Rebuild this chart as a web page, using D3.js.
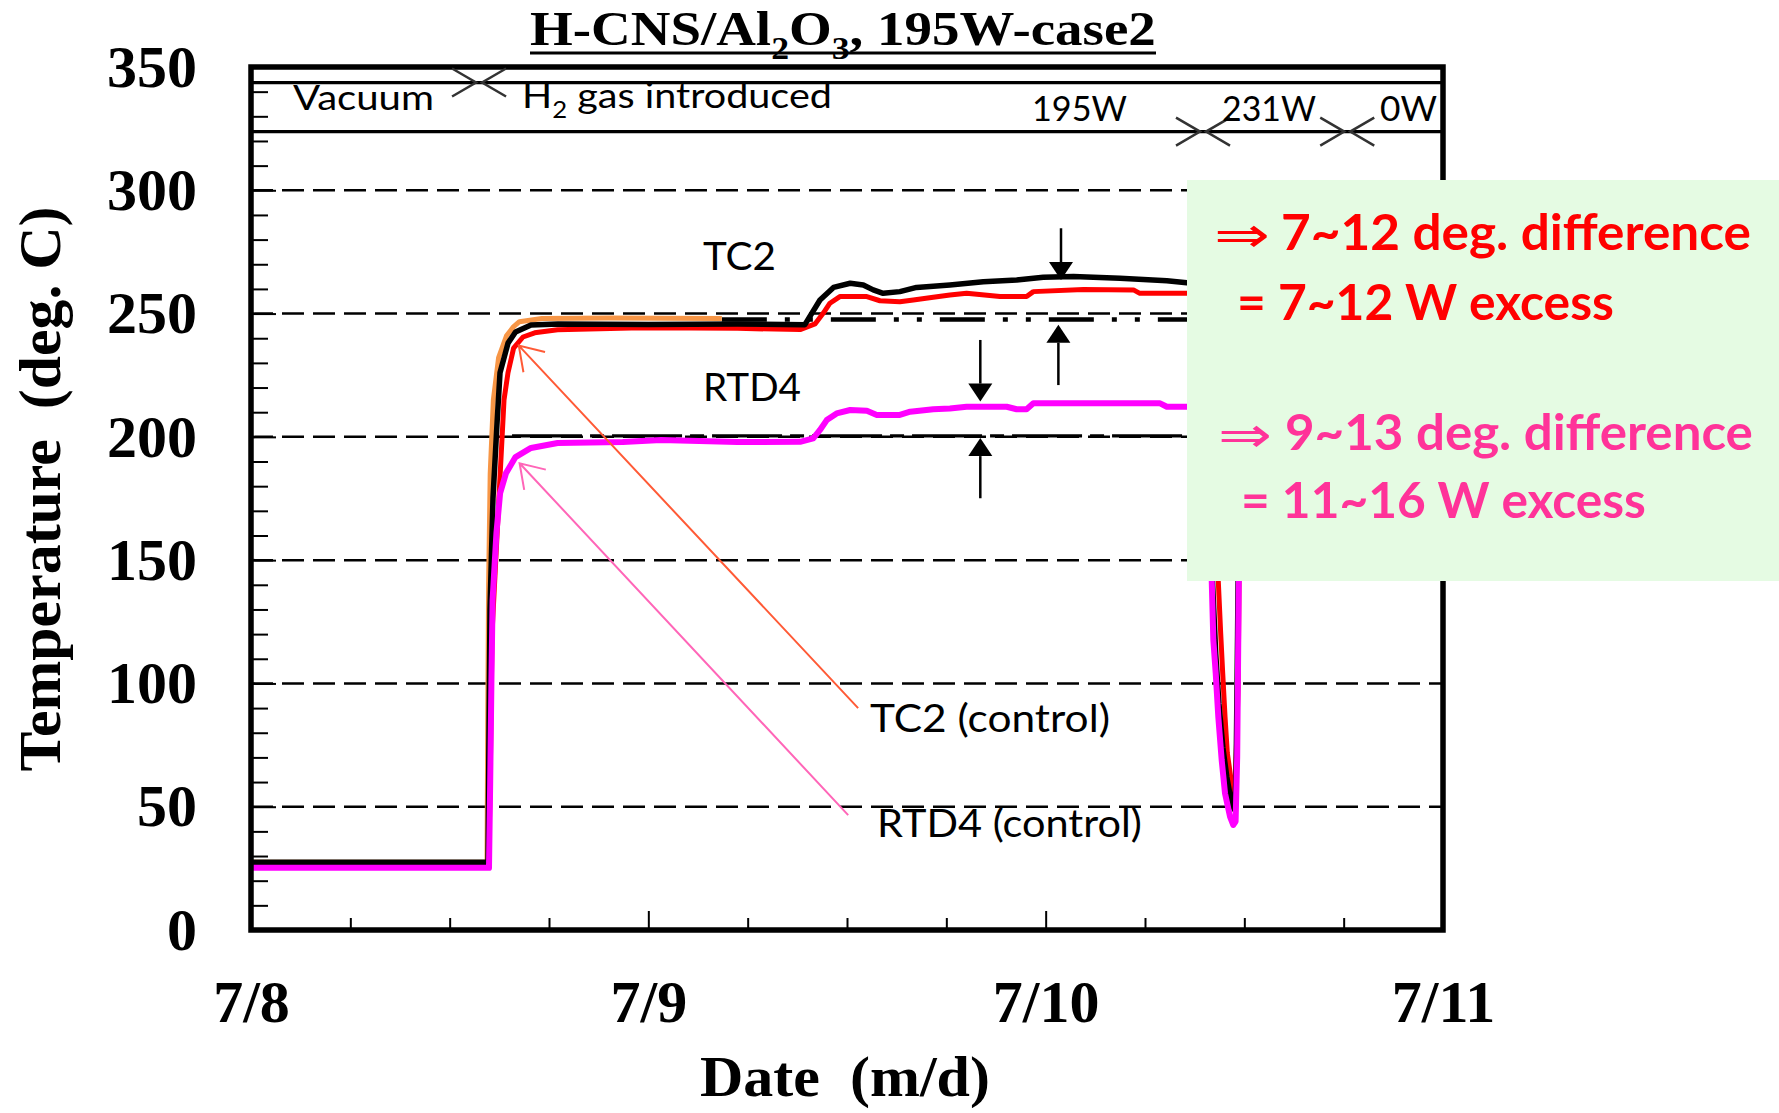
<!DOCTYPE html>
<html>
<head>
<meta charset="utf-8">
<script src="https://cdn.jsdelivr.net/npm/d3@7"></script>
<style>
  body { margin: 0; background: #fff; }
  svg { display: block; }
</style>
</head>
<body>
<div id="chart"></div>
<script>
// ---- data: [days since 7/8 00:00, temperature in deg C] ----
const tc2Black = [
  [0, 27.5], [0.5965, 27.5], [0.599, 80], [0.6015, 130], [0.609, 175], [0.619, 205],
  [0.6267, 226], [0.6468, 238], [0.6657, 242.5], [0.7047, 245.4], [0.7727, 245.8],
  [1.0, 245.6], [1.2244, 245.8], [1.394, 245.5], [1.432, 255.5], [1.466, 260.6],
  [1.508, 262.3], [1.541, 261.6], [1.566, 259.6], [1.591, 258.2], [1.633, 258.9],
  [1.675, 260.6], [1.759, 261.6], [1.843, 262.9], [1.927, 263.6], [1.994, 264.7],
  [2.07, 265], [2.187, 264.3], [2.305, 263.3], [2.355, 262.5], [2.41, 262],
  [2.416, 170], [2.42, 141], [2.428, 112], [2.436, 92], [2.446, 74], [2.456, 62],
  [2.466, 53], [2.474, 49], [2.479, 60], [2.483, 120], [2.487, 190], [2.493, 245],
  [2.52, 260], [2.6, 272], [2.7, 278], [2.76, 280]
];
const tc2Red = [
  [0, 26.5], [0.598, 26.5], [0.602, 60], [0.6065, 120], [0.6267, 183.7], [0.6368, 215],
  [0.6468, 226], [0.6609, 236], [0.6846, 240.5], [0.714, 242.2], [0.7717, 243.4],
  [0.984, 244.2], [1.2244, 244], [1.382, 243.5], [1.4195, 245.8], [1.44, 250.1],
  [1.457, 254.2], [1.482, 256.9], [1.55, 256.9], [1.583, 255.2], [1.633, 254.8],
  [1.667, 255.5], [1.717, 256.6], [1.759, 257.5], [1.801, 258.2], [1.885, 256.9],
  [1.952, 256.9], [1.969, 258.9], [2.095, 259.8], [2.221, 259.6], [2.237, 258.2],
  [2.355, 258.2], [2.41, 258], [2.425, 190], [2.4345, 141.3], [2.4405, 120.3],
  [2.4456, 104.1], [2.4514, 86.5], [2.4572, 71.7], [2.468, 59.5], [2.4765, 53.4],
  [2.4845, 100], [2.488, 170], [2.495, 240], [2.52, 256], [2.6, 268], [2.7, 274], [2.76, 276]
];
const rtd4Magenta = [
  [0, 25.2], [0.599, 25.2], [0.602, 60], [0.605, 100], [0.608, 133.8], [0.6177, 161],
  [0.627, 177.2], [0.6418, 185.3], [0.6657, 191.8], [0.7047, 195.5], [0.7717, 197.5],
  [0.9355, 197.9], [1.032, 198.7], [1.2244, 197.9], [1.382, 198], [1.415, 199.4],
  [1.432, 202.8], [1.449, 206.8], [1.474, 209.5], [1.508, 210.9], [1.55, 210.6],
  [1.575, 208.9], [1.633, 208.9], [1.659, 210.2], [1.717, 211.2], [1.759, 211.5],
  [1.801, 212.2], [1.902, 212.2], [1.927, 211.2], [1.952, 211.2], [1.969, 213.6],
  [2.137, 213.6], [2.288, 213.6], [2.305, 212.2], [2.355, 212.2], [2.41, 212],
  [2.415, 165], [2.418, 141.3], [2.422, 117.6], [2.428, 104.1], [2.4345, 86.5],
  [2.443, 68.9], [2.4514, 55.4], [2.464, 46], [2.472, 42.6], [2.478, 44], [2.482, 70],
  [2.486, 140], [2.492, 200], [2.52, 210], [2.6, 222], [2.7, 228], [2.76, 230]
];
const tc2ControlOrange = [
  [0, 27.5], [0.594, 27.5], [0.596, 90], [0.598, 140], [0.602, 185], [0.61, 215],
  [0.623, 232], [0.643, 241], [0.661, 244.7], [0.6755, 246.7], [0.732, 248],
  [0.9, 248.2], [1.185, 248]
];
const tc2ControlLevel = [[1.185, 247.6], [2.40, 247.6]];
const rtd4ControlLevel = [[0.657, 200.4], [2.40, 200.4]];

// phase changes (day): H2 introduced, 195W -> 231W, 231W -> 0W
const phaseChanges = [0.574, 2.396, 2.759];

const xTickValues = [0, 1, 2, 3];
const xTickLabels = ["7/8", "7/9", "7/10", "7/11"];
const yTickValues = [0, 50, 100, 150, 200, 250, 300, 350];
const gridTemps = [50, 100, 150, 200, 250, 300];

// ---- layout ----
const W = 1779, H = 1113;
const plot = { left: 251, right: 1443, top: 67, bottom: 930 };
const SERIF = "'Liberation Serif','Times New Roman',serif";
const SANS = "Lato,Carlito,'Noto Sans',sans-serif";
const bandTemps = [343.7, 323.8];   // the two phase band lines, in plot units

const svg = d3.select("#chart").append("svg")
  .attr("width", W).attr("height", H)
  .attr("viewBox", [0, 0, W, H].join(" "));
svg.append("rect").attr("width", W).attr("height", H).attr("fill", "#fff");

const x = d3.scaleLinear().domain([0, 3]).range([plot.left, plot.right]);
const y = d3.scaleLinear().domain([0, 350]).range([plot.bottom, plot.top]);

// text helper: draws text at (px,py) and stretches it to a target width
function addText(parent, o) {
  const g = parent.append("text")
    .attr("font-family", o.family)
    .attr("font-size", o.size)
    .attr("font-weight", o.weight || "normal")
    .attr("fill", o.fill || "#000")
    .attr("text-anchor", o.anchor || "start");
  let shift = 0;
  (o.parts || [{ t: o.text }]).forEach(p => {
    const target = p.sub ? o.size * 0.3 : 0;
    const s = g.append("tspan").text(p.t).attr("dy", target - shift);
    if (p.sub) s.attr("font-size", o.size * 0.65);
    shift = target;
  });
  let k = 1;
  if (o.width) k = o.width / g.node().getBBox().width;
  g.attr("transform", `translate(${o.px},${o.py}) rotate(${o.rotate || 0}) scale(${k},1)`);
  return g;
}

// gridlines
svg.append("g").selectAll("line").data(gridTemps).join("line")
  .attr("x1", x(0)).attr("x2", x(3))
  .attr("y1", d => y(d)).attr("y2", d => y(d))
  .attr("stroke", "#000").attr("stroke-width", 2.5)
  .attr("stroke-dasharray", "22,9");

// axes ticks
const yMinor = d3.range(10, 350, 10).filter(v => v % 50 !== 0);
const yMinorG = svg.append("g").attr("transform", `translate(${plot.left},0)`)
  .call(d3.axisLeft(y).tickValues(yMinor).tickSize(-17).tickFormat(""));
const yAxisG = svg.append("g").attr("transform", `translate(${plot.left},0)`)
  .call(d3.axisLeft(y).tickValues(yTickValues).tickSize(-25).tickPadding(54).tickFormat(d3.format("d")));

const xMinor = d3.range(0.25, 3, 0.25).filter(v => v % 1 !== 0);
const xMinorG = svg.append("g").attr("transform", `translate(0,${plot.bottom})`)
  .call(d3.axisBottom(x).tickValues(xMinor).tickSize(-12).tickFormat(""));
const xAxisG = svg.append("g").attr("transform", `translate(0,${plot.bottom})`)
  .call(d3.axisBottom(x).tickValues(xTickValues).tickSize(-19).tickPadding(49)
    .tickFormat((d, i) => xTickLabels[i]));

[yMinorG, yAxisG, xMinorG, xAxisG].forEach(g => {
  g.select(".domain").remove();
  g.selectAll("line").attr("stroke", "#000").attr("stroke-width", 2);
  g.selectAll("text")
    .attr("font-family", SERIF).attr("font-size", 60)
    .attr("font-weight", "bold").attr("fill", "#000");
});

// series
const line = d3.line().x(d => x(d[0])).y(d => y(d[1]));
function drawSeries(data, color, width, dash) {
  svg.append("path").datum(data)
    .attr("fill", "none")
    .attr("stroke", color)
    .attr("stroke-width", width)
    .attr("stroke-linejoin", "round")
    .attr("stroke-dasharray", dash || null)
    .attr("d", line);
}
drawSeries(tc2ControlLevel, "#000", 4.5, "45,18,5,18,5,18");
drawSeries(rtd4ControlLevel, "#000", 3.2, "70,8,14,8");
drawSeries(tc2ControlOrange, "#F79646", 5);
drawSeries(tc2Red, "#FF0000", 5);
drawSeries(tc2Black, "#000", 5.5);
drawSeries(rtd4Magenta, "#FF00FF", 6);

// callout lines to the control curves
const callouts = [
  { label: "TC2 (control)", tip: [0.674, 237], tail: [1.528, 90.0], color: "#FF5A36", at: [1.558, 80.3], w: 240 },
  { label: "RTD4 (control)", tip: [0.676, 189.3], tail: [1.503, 46.6], color: "#FF66B8", at: [1.5755, 37.7], w: 265 }
];
callouts.forEach(c => {
  const tx = x(c.tip[0]), ty = y(c.tip[1]);
  const ex = x(c.tail[0]), ey = y(c.tail[1]);
  const a = Math.atan2(ey - ty, ex - tx), L = 27;
  svg.append("path")
    .attr("d", `M${ex},${ey}L${tx},${ty}` +
      `M${tx + L * Math.cos(a - 0.58)},${ty + L * Math.sin(a - 0.58)}L${tx},${ty}` +
      `L${tx + L * Math.cos(a + 0.58)},${ty + L * Math.sin(a + 0.58)}`)
    .attr("fill", "none").attr("stroke", c.color).attr("stroke-width", 2);
  addText(svg, { text: c.label, px: x(c.at[0]), py: y(c.at[1]), family: SANS, size: 39, width: c.w });
});

// series labels
addText(svg, { text: "TC2", px: x(1.1376), py: y(267.7), family: SANS, size: 39, width: 73 });
addText(svg, { text: "RTD4", px: x(1.1376), py: y(214.5), family: SANS, size: 39, width: 98 });

// difference arrows
const diffArrows = [
  { day: 2.0386, from: 284.6, to: 263.6 },
  { day: 2.032, from: 221, to: 245.5 },
  { day: 1.8355, from: 239.3, to: 214.3 },
  { day: 1.8355, from: 175.1, to: 199.5 }
];
diffArrows.forEach(a => {
  const ax = x(a.day), y0 = y(a.from), y1 = y(a.to);
  const dir = Math.sign(y1 - y0), hl = 18, hw = 12;
  svg.append("line")
    .attr("x1", ax).attr("x2", ax).attr("y1", y0).attr("y2", y1 - dir * hl)
    .attr("stroke", "#000").attr("stroke-width", 2.5);
  svg.append("path")
    .attr("d", `M${ax},${y1}L${ax - hw},${y1 - dir * hl}L${ax + hw},${y1 - dir * hl}Z`)
    .attr("fill", "#000");
});

// frame
svg.append("rect")
  .attr("x", plot.left).attr("y", plot.top)
  .attr("width", plot.right - plot.left).attr("height", plot.bottom - plot.top)
  .attr("fill", "none").attr("stroke", "#000").attr("stroke-width", 5.5);

// phase band
svg.append("g").selectAll("line").data(bandTemps).join("line")
  .attr("x1", x(0)).attr("x2", x(3))
  .attr("y1", d => y(d)).attr("y2", d => y(d))
  .attr("stroke", "#000").attr("stroke-width", 3.2);

const crossBands = [0, 1, 1];
svg.append("g").selectAll("path").data(phaseChanges).join("path")
  .attr("d", (d, i) => {
    const cx = x(d), cy = y(bandTemps[crossBands[i]]);
    return `M${cx - 27},${cy - 14}L${cx - 3},${cy}L${cx - 27},${cy + 14}` +
      `M${cx + 27},${cy - 14}L${cx + 3},${cy}L${cx + 27},${cy + 14}`;
  })
  .attr("fill", "none").attr("stroke", "#333").attr("stroke-width", 2.5);

addText(svg, { text: "Vacuum", px: 293, py: 110, family: SANS, size: 34, width: 141 });
addText(svg, { parts: [{ t: "H" }, { t: "2", sub: true }, { t: " gas introduced" }], px: 522, py: 108, family: SANS, size: 34, width: 310 });
addText(svg, { text: "195W", px: 1032, py: 121, family: SANS, size: 34, width: 95 });
addText(svg, { text: "231W", px: 1222, py: 121, family: SANS, size: 34, width: 94 });
addText(svg, { text: "0W", px: 1380, py: 121, family: SANS, size: 34, width: 57 });

// result box
svg.append("rect")
  .attr("x", 1187).attr("y", 180).attr("width", W - 1187).attr("height", 401)
  .attr("fill", "#E5FBE3");
const red = "#FF0000", pink = "#FF3399";
addText(svg, { text: "\u21D2", px: 1214, py: 252, family: "'DejaVu Sans'", size: 50, fill: red, width: 56 });
addText(svg, { text: "7~12 deg. difference", px: 1281, py: 250, family: SANS, size: 50, weight: "bold", fill: red, width: 470 });
addText(svg, { text: "= 7~12 W excess", px: 1237, py: 320, family: SANS, size: 50, weight: "bold", fill: red, width: 377 });
addText(svg, { text: "\u21D2", px: 1218, py: 452, family: "'DejaVu Sans'", size: 50, fill: pink, width: 54 });
addText(svg, { text: "9~13 deg. difference", px: 1285, py: 450, family: SANS, size: 50, weight: "bold", fill: pink, width: 468 });
addText(svg, { text: "= 11~16 W excess", px: 1241, py: 518, family: SANS, size: 50, weight: "bold", fill: pink, width: 405 });

// title + axis titles
addText(svg, {
  parts: [{ t: "H-CNS/Al" }, { t: "2", sub: true }, { t: "O" }, { t: "3", sub: true }, { t: ", 195W-case2" }],
  px: 530, py: 45, family: SERIF, size: 48, weight: "bold", width: 626
});
svg.append("line").attr("x1", 530).attr("x2", 1156).attr("y1", 53).attr("y2", 53)
  .attr("stroke", "#000").attr("stroke-width", 3);

addText(svg, { text: "Temperature\u00A0\u00A0(deg. C)", px: 60, py: 489, rotate: -90, anchor: "middle", family: SERIF, size: 60, weight: "bold", width: 565 });
addText(svg, { text: "Date\u00A0\u00A0(m/d)", px: 845, py: 1096, anchor: "middle", family: SERIF, size: 58, weight: "bold", width: 290 });
</script>
</body>
</html>
